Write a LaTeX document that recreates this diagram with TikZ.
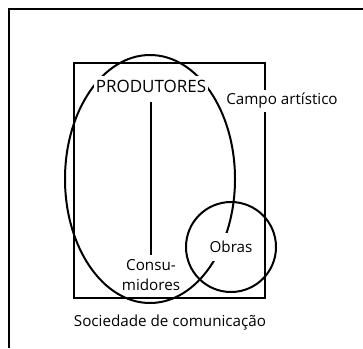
\documentclass[tikz,border=0pt]{standalone}
\usepackage{fontspec}
\setmainfont{Open Sans}
\usepackage{tikz}
\usetikzlibrary{positioning}
\tikzset{
x=1pt, y=-1pt, % one unit is one pixel of the scan, y runs down
every picture/.style={line width=2pt}, % all strokes are heavy
every node/.style={font=\fontsize{15.2}{20}\selectfont},
cover/.style={fill=white, inner xsep=2pt}, % hides the lines behind a text
}

\begin{document}
\begin{tikzpicture}

            \useasboundingbox (0,0) rectangle (363,348);
            \draw (363,9) -- (9,9) -- (9,348);
            \draw (74,63) rectangle (265,298);
            \draw (150,179) ellipse [x radius=85pt, y radius=124pt];
            \draw (231,247) circle [radius=45pt];
            \node[cover, inner ysep=4pt, font=\fontsize{17}{20}\selectfont] (prod) at (151,86) {PRODUTORES};
            \node[cover, inner sep=3pt] (campo) at (282,101) {Campo artístico};
            \node[cover, inner xsep=3pt, inner ysep=8pt] (obras) at (231,247) {Obras};
            \node[align=center, inner sep=3pt] (cons) at (151,275) {Consu-\\midores};
            \node (soc) at (170,323) {Sociedade de comunicação};
            \draw[shorten <=5pt] (prod) -- (cons);
        \end{tikzpicture}
\end{document}
